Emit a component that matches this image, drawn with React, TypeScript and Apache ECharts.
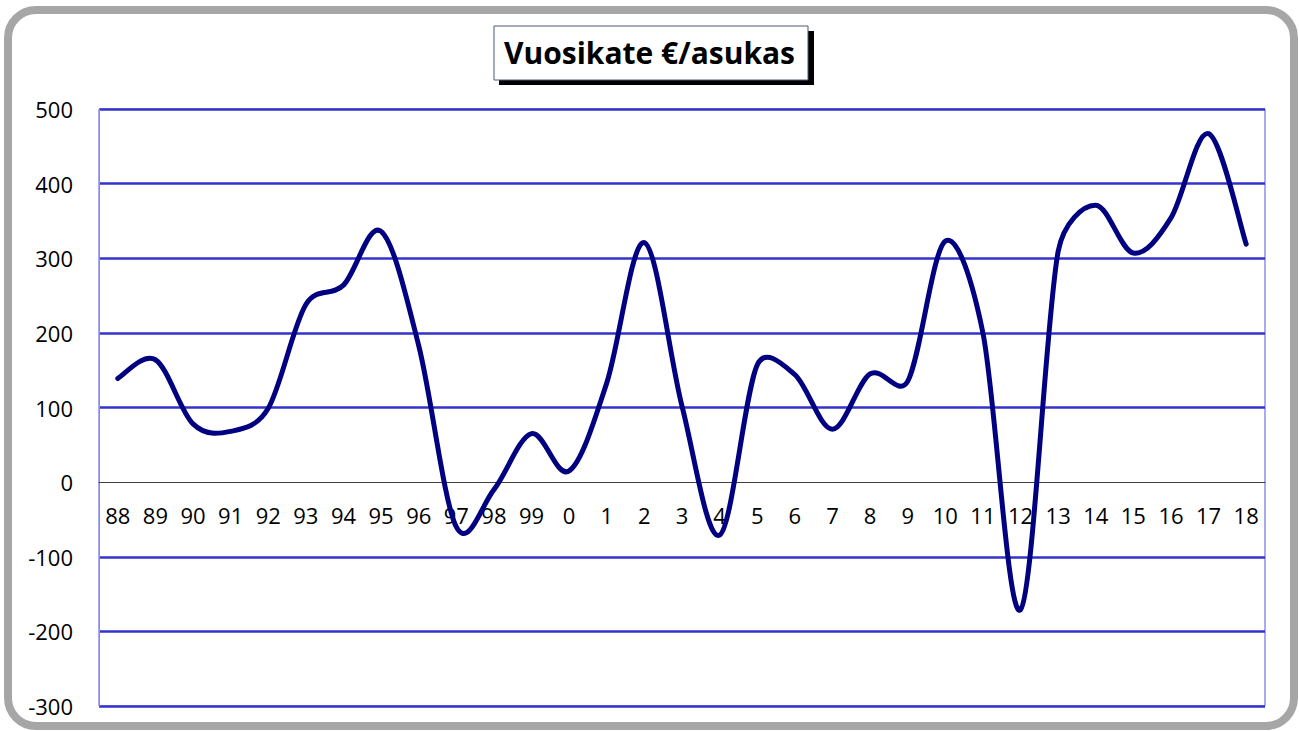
import React, { useEffect, useRef } from "react";
import * as echarts from "echarts";

const titleText = "Vuosikate €/asukas";
const categories = ["88", "89", "90", "91", "92", "93", "94", "95", "96", "97", "98", "99", "0", "1", "2", "3", "4", "5", "6", "7", "8", "9", "10", "11", "12", "13", "14", "15", "16", "17", "18"];
const values = [139, 164, 78, 68, 99, 238, 264, 336, 183, -60, -10, 65, 15, 133, 321, 102, -71, 157, 144, 71, 145, 135, 323, 200, -171, 309, 371, 307, 354, 467, 319];
const yMin = -300;
const yMax = 500;
const yStep = 100;

const FONT = "'Open Sans', 'Noto Sans', sans-serif";

function arm(prev: number[], next: number[], segA: number[], segB: number[]) {
  let ax = (next[0] - prev[0]) / 6;
  let ay = (next[1] - prev[1]) / 6;
  const len = Math.hypot(ax, ay);
  const half = Math.hypot(segB[0] - segA[0], segB[1] - segA[1]) / 2;
  if (len > half && len > 0) {
    ax = (ax * half) / len;
    ay = (ay * half) / len;
  }
  return [ax, ay];
}

export default function App() {
  const ref = useRef<HTMLDivElement>(null);
  useEffect(() => {
    if (!ref.current) return;
    const chart = echarts.init(ref.current, null, { renderer: "svg" });
    const splitColors: string[] = [];
    for (let v = yMin; v <= yMax; v += yStep) splitColors.push(v === 0 ? "rgba(0,0,0,0)" : "#3333cc");
    chart.setOption({
      animation: false,
      backgroundColor: "#ffffff",
      title: {
        text: titleText,
        left: "center",
        top: 33,
        padding: 0,
        z: 20,
        textStyle: { fontFamily: FONT, fontWeight: "bold", fontSize: 30, color: "#000", lineHeight: 38 },
      },
      graphic: [
        {
          type: "rect",
          z: 1,
          shape: { x: 8, y: 10, width: 1286, height: 716, r: 28 },
          style: { fill: "none", stroke: "#a6a6a6", lineWidth: 8 },
        },
        {
          type: "rect",
          z: 5,
          shape: { x: 499, y: 31, width: 315, height: 54 },
          style: { fill: "#000" },
        },
        {
          type: "rect",
          z: 6,
          shape: { x: 494, y: 26, width: 314, height: 54 },
          style: { fill: "#fff", stroke: "#4a5a7a", lineWidth: 1 },
        },
      ],
      grid: {
        left: 99,
        right: 34,
        top: 109,
        bottom: 25,
        show: true,
        borderColor: "#5555e0",
        borderWidth: 1,
      },
      xAxis: {
        type: "category",
        data: categories,
        boundaryGap: true,
        axisLine: { onZero: true, lineStyle: { color: "#404040", width: 1 } },
        axisTick: { show: false },
        axisLabel: { interval: 0, fontFamily: FONT, fontSize: 22, color: "#000", margin: -202 },
        splitLine: { show: false },
      },
      yAxis: {
        type: "value",
        min: yMin,
        max: yMax,
        interval: yStep,
        axisLine: { show: true, lineStyle: { color: "#8888e8", width: 1 } },
        axisTick: { show: false },
        axisLabel: { fontFamily: FONT, fontSize: 22, color: "#000", margin: 26 },
        splitLine: { show: true, lineStyle: { color: splitColors, width: 2.5 } },
      },
      series: [
        {
          type: "custom",
          data: values.map((v, i) => [i, v]),
          encode: { x: 0, y: 1 },
          clip: false,
          z: 3,
          renderItem: (params: any, api: any) => {
            if (params.dataIndex !== 0) return null;
            const pts = values.map((v, i) => api.coord([i, v]));
            let d = `M${pts[0][0]},${pts[0][1]}`;
            for (let i = 0; i < pts.length - 1; i++) {
              const p0 = pts[i - 1] || pts[i];
              const p1 = pts[i];
              const p2 = pts[i + 1];
              const p3 = pts[i + 2] || pts[i + 1];
              const a1 = arm(p0, p2, p1, p2);
              const a2 = arm(p1, p3, p1, p2);
              const c1x = p1[0] + a1[0];
              const c1y = p1[1] + a1[1];
              const c2x = p2[0] - a2[0];
              const c2y = p2[1] - a2[1];
              d += ` C${c1x},${c1y} ${c2x},${c2y} ${p2[0]},${p2[1]}`;
            }
            return {
              type: "path",
              shape: { pathData: d },
              style: { fill: "none", stroke: "#000080", lineWidth: 5, lineCap: "round", lineJoin: "round" },
            };
          },
        },
      ],
    });
    return () => chart.dispose();
  }, []);
  return (
    <div
      ref={ref}
      style={{ position: "absolute", left: 0, top: 0, width: 1299, height: 731, background: "#fff" }}
    />
  );
}
